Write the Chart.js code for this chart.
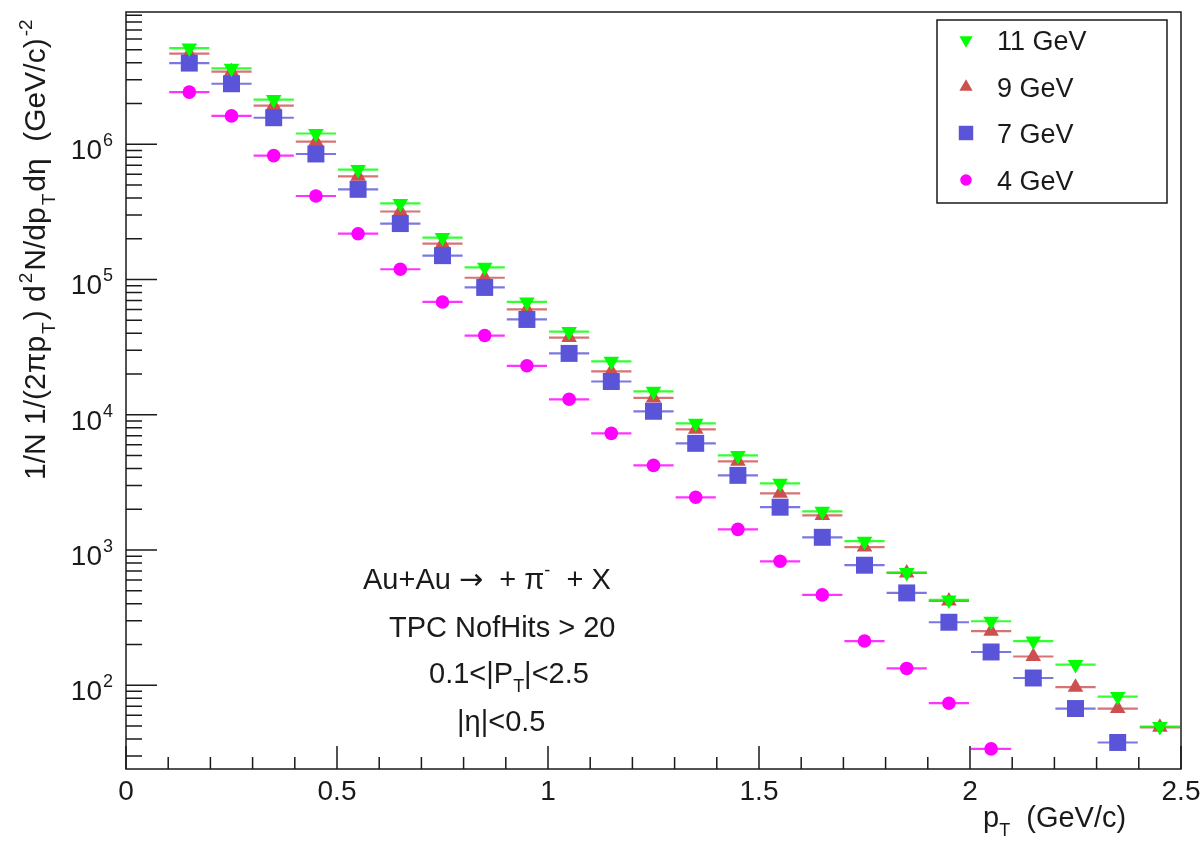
<!DOCTYPE html>
<html>
<head>
<meta charset="utf-8">
<title>pi- spectra</title>
<script src="https://cdn.jsdelivr.net/npm/chart.js@4.4.0/dist/chart.umd.min.js"></script>
<style>
  html, body { margin: 0; padding: 0; background: #fff; }
  #wrap { width: 1203px; height: 843px; }
</style>
</head>
<body>
<div id="wrap"><canvas id="spectra" width="1203" height="843"></canvas></div>
<script>
// bin centres (GeV/c), bins are 0.1 wide
const ptBins = [0.15, 0.25, 0.35, 0.45, 0.55, 0.65, 0.75, 0.85, 0.95, 1.05, 1.15, 1.25,
                1.35, 1.45, 1.55, 1.65, 1.75, 1.85, 1.95, 2.05, 2.15, 2.25, 2.35, 2.45];
const binHalfWidth = 0.05;

// invariant yields
const yield11 = [5.14e6, 3.64e6, 2.14e6, 1.20e6, 6.49e5, 3.65e5, 2.04e5, 1.23e5, 6.82e4, 4.12e4,
                 2.48e4, 1.49e4, 8630, 5000, 3110, 1930, 1160, 681, 427, 297, 212, 142, 82.4, 49.5];
const yield9  = [4.67e6, 3.44e6, 1.93e6, 1.045e6, 5.79e5, 3.18e5, 1.84e5, 1.03e5, 6.00e4, 3.72e4,
                 2.09e4, 1.33e4, 7790, 4520, 2620, 1800, 1050, 676, 420, 251, 163, 96.6, 67.2, 48.8];
const yield7  = [3.98e6, 2.80e6, 1.57e6, 8.47e5, 4.64e5, 2.59e5, 1.50e5, 8.73e4, 5.06e4, 2.84e4,
                 1.76e4, 1.06e4, 6140, 3560, 2070, 1240, 771, 481, 292, 176, 113, 67.2, 37.7];
const yield4  = [2.43e6, 1.62e6, 8.24e5, 4.14e5, 2.18e5, 1.19e5, 6.82e4, 3.85e4, 2.30e4, 1.30e4,
                 7280, 4220, 2450, 1420, 824, 465, 212, 133, 73.6, 33.8];

const seriesNames = ["11 GeV", "9 GeV", "7 GeV", "4 GeV"];
const xTickValues = [0, 0.5, 1, 1.5, 2, 2.5];
const xTickLabels = ["0", "0.5", "1", "1.5", "2", "2.5"];
const yDecades = [2, 3, 4, 5, 6];

const FONT = '"Liberation Sans", Arial, Helvetica, sans-serif';
const INK = "#1a1a1a";

const styles = [
  { color: "#00ff00", shape: "triangle", rot: 180, r: 9, order: 0 },
  { color: "#cc5050", shape: "triangle", rot: 0, r: 9, order: 2 },
  { color: "#5a55d8", shape: "rect", rot: 0, r: 12, order: 1 },
  { color: "#ff00ff", shape: "circle", rot: 0, r: 6.8, order: 3 },
];
const allYields = [yield11, yield9, yield7, yield4];

function toPoints(vals) {
  return vals.map((v, i) => ({ x: ptBins[i], y: v }));
}

const datasets = allYields.map((vals, k) => ({
  label: seriesNames[k],
  data: toPoints(vals),
  showLine: false,
  pointStyle: styles[k].shape,
  rotation: styles[k].rot,
  pointRadius: styles[k].r,
  pointBackgroundColor: styles[k].color,
  pointBorderColor: styles[k].color,
  pointBorderWidth: 0,
  order: styles[k].order,
}));

// small rich text helper for sub/superscripts; kind "arrow" uses DejaVu for a wider arrow
function drawRich(ctx, parts, x, y, size, gap = 0) {
  let cx = x;
  for (const [t, kind] of parts) {
    const script = kind === "sub" || kind === "sup";
    const s = script ? Math.round(size * 0.62) : size;
    ctx.font = kind === "arrow" ? `${size}px "DejaVu Sans", ${FONT}` : `${s}px ${FONT}`;
    const dy = kind === "sub" ? size * 0.32 : kind === "sup" ? -size * 0.45 : 0;
    if (script) cx += gap;
    ctx.fillText(t, cx, y + dy);
    cx += ctx.measureText(t).width + (script ? gap : 0);
  }
  return cx - x;
}

function marker(ctx, shape, x, y, r, rot, color) {
  ctx.fillStyle = color;
  ctx.beginPath();
  if (shape === "rect") {
    const s = r * Math.SQRT1_2;
    ctx.rect(x - s, y - s, 2 * s, 2 * s);
  } else if (shape === "triangle") {
    let a = rot * Math.PI / 180;
    for (let j = 0; j < 3; j++) {
      const px = x + Math.sin(a) * r, py = y - Math.cos(a) * r;
      j ? ctx.lineTo(px, py) : ctx.moveTo(px, py);
      a += 2 * Math.PI / 3;
    }
    ctx.closePath();
  } else {
    ctx.arc(x, y, r, 0, 2 * Math.PI);
  }
  ctx.fill();
}

const rootStyle = {
  id: "rootStyle",
  beforeDatasetsDraw(chart) {
    // horizontal error bars (bin width)
    const { ctx, chartArea: a, scales: { x, y } } = chart;
    ctx.save();
    ctx.beginPath();
    ctx.rect(a.left, a.top, a.right - a.left, a.bottom - a.top);
    ctx.clip();
    ctx.lineWidth = 2.2;
    for (let k = allYields.length - 1; k >= 0; k--) {
      ctx.strokeStyle = styles[k].color;
      ctx.globalAlpha = 0.8;
      allYields[k].forEach((v, i) => {
        const py = y.getPixelForValue(v);
        ctx.beginPath();
        ctx.moveTo(x.getPixelForValue(ptBins[i] - binHalfWidth) + 1, py);
        ctx.lineTo(x.getPixelForValue(ptBins[i] + binHalfWidth) - 1, py);
        ctx.stroke();
      });
    }
    ctx.restore();
  },
  afterDraw(chart) {
    const { ctx, chartArea: a, scales: { x, y } } = chart;
    ctx.save();
    ctx.strokeStyle = INK;
    ctx.fillStyle = INK;
    ctx.lineWidth = 1.5;
    // frame
    ctx.strokeRect(a.left, a.top, a.right - a.left, a.bottom - a.top);

    // x ticks (inward)
    ctx.beginPath();
    for (let i = 0; i <= 25; i++) {
      const px = x.getPixelForValue(i / 10);
      const len = i % 5 === 0 ? 23 : 12;
      ctx.moveTo(px, a.bottom);
      ctx.lineTo(px, a.bottom - len);
    }
    // y ticks (inward)
    for (let d = 1; d <= 7; d++) {
      for (let m = 1; m <= 9; m++) {
        const v = m * Math.pow(10, d);
        if (v < y.min || v > y.max) continue;
        const py = y.getPixelForValue(v);
        const len = m === 1 ? 31 : 16;
        ctx.moveTo(a.left, py);
        ctx.lineTo(a.left + len, py);
      }
    }
    ctx.stroke();

    // x tick labels
    ctx.font = `28px ${FONT}`;
    ctx.textAlign = "center";
    ctx.textBaseline = "middle";
    xTickValues.forEach((v, i) => {
      ctx.fillText(xTickLabels[i], x.getPixelForValue(v), a.bottom + 23);
    });

    // y tick labels 10^n
    ctx.textBaseline = "alphabetic";
    yDecades.forEach((e) => {
      const py = y.getPixelForValue(Math.pow(10, e));
      ctx.font = `18px ${FONT}`;
      ctx.textAlign = "left";
      const ew = ctx.measureText(String(e)).width;
      ctx.fillText(String(e), 113 - ew, py + 2);
      ctx.font = `28px ${FONT}`;
      ctx.textAlign = "right";
      ctx.fillText("10", 113 - ew - 1, py + 15);
    });
    ctx.textAlign = "left";

    // x title
    drawRich(ctx, [["p", ""], ["T", "sub"], ["  (GeV/c)", ""]], 983, 827, 29);

    // y title (rotated)
    ctx.save();
    ctx.translate(45, 480);
    ctx.rotate(-Math.PI / 2);
    drawRich(ctx, [["1/N 1/(2\u03c0p", ""], ["T", "sub"], [") d", ""], ["2", "sup"],
                   ["N/dp", ""], ["T", "sub"], ["d\u03b7  (GeV/c)", ""], ["-2", "sup"]], 0, 0, 30, 2);
    ctx.restore();

    // annotation
    drawRich(ctx, [["Au+Au ", ""], ["\u2192", "arrow"], ["  + \u03c0", ""], ["-", "sup"], ["  + X", ""]], 363, 589, 29);
    drawRich(ctx, [["TPC NofHits > 20", ""]], 389, 637, 29);
    drawRich(ctx, [["0.1<|P", ""], ["T", "sub"], ["|<2.5", ""]], 429, 683, 29);
    drawRich(ctx, [["|\u03b7|<0.5", ""]], 457, 731, 29);

    // legend box
    ctx.lineWidth = 1.5;
    ctx.strokeStyle = INK;
    ctx.strokeRect(937, 20, 230, 183);
    const rowY = [40, 87, 133, 180];
    seriesNames.forEach((name, k) => {
      const st = styles[k];
      marker(ctx, st.shape, 966, rowY[k], st.r * 0.85, st.rot, st.color);
      ctx.fillStyle = INK;
      ctx.font = `27px ${FONT}`;
      ctx.fillText(name, 997, rowY[k] + 10);
    });
    ctx.restore();
  },
};

new Chart(document.getElementById("spectra"), {
  type: "scatter",
  data: { datasets },
  options: {
    responsive: false,
    animation: false,
    devicePixelRatio: 1,
    layout: { padding: { left: 126, top: 9, right: 22, bottom: 74 } },
    scales: {
      x: { type: "linear", min: 0, max: 2.5, display: false },
      y: { type: "logarithmic", min: 24, max: 9.5e6, display: false },
    },
    plugins: { legend: { display: false }, tooltip: { enabled: false } },
  },
  plugins: [rootStyle],
});
</script>
</body>
</html>
